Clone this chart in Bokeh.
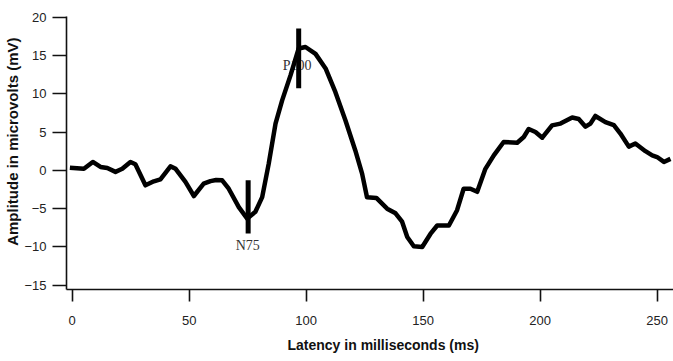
from bokeh.plotting import figure
from bokeh.models import Range1d, FixedTicker, ColumnDataSource, Title
from bokeh.core.properties import value
from bokeh.embed import file_html
from bokeh.resources import INLINE

# Waveform (latency in ms, amplitude)
latency_ms = [-1, 5, 8.8, 12.1, 15, 18.5, 21.4, 24.9, 27, 31.3, 34.9, 37.7, 42, 44.2,
              48.4, 52, 56.2, 59.1, 61.5, 64.1, 66.9, 71.2, 74.8, 78.3, 81.2, 84,
              86.9, 89.7, 93.3, 96.8, 99.7, 104, 108.3, 112.5, 116.8, 121, 123.9,
              126, 130, 134.6, 138.2, 141, 143.2, 146, 149.6, 153.1, 156, 161,
              164.5, 167.3, 170.2, 173.1, 176.6, 180.2, 184.4, 190.2, 193, 195.1,
              198, 200.9, 205.1, 208.7, 213.7, 216.5, 219.4, 221.5, 223.6, 227.9,
              231.5, 234.3, 237.9, 240.7, 245, 247.9, 250, 252.9, 255.7]
amplitude = [0.35, 0.2, 1.1, 0.45, 0.3, -0.2, 0.2, 1.1, 0.8, -1.95, -1.43, -1.17, 0.52, 0.2,
             -1.5, -3.35, -1.74, -1.4, -1.25, -1.3, -2.4, -4.8, -6.3, -5.4, -3.5, 0.87,
             6.1, 9.1, 12.4, 15.9, 16.1, 15.2, 13.3, 10.2, 6.5, 2.6, -0.43,
             -3.5, -3.6, -5.0, -5.6, -6.7, -8.7, -9.9, -10, -8.3, -7.2, -7.2,
             -5.2, -2.4, -2.4, -2.8, 0.2, 1.96, 3.7, 3.6, 4.35, 5.4,
             5.0, 4.26, 5.87, 6.1, 6.9, 6.7, 5.7, 6.1, 7.1, 6.3,
             5.9, 4.8, 3.1, 3.5, 2.5, 1.96, 1.74, 1.1, 1.5]

# Peak markers
peak_names = ["N75", "P100"]
peak_ms = [75.2, 96.8]
bar_top = [-1.3, 18.5]
bar_bottom = [-8.25, 10.7]
label_ms = [75.0, 96.1]
label_amp = [-9.8, 13.7]

x_ticks = [0, 50, 100, 150, 200, 250]
y_ticks = [-15, -10, -5, 0, 5, 10, 15, 20]
x_title = "Latency in milliseconds (ms)"
y_title = "Amplitude in microvolts (mV)"

p = figure(width=673, height=361, output_backend="svg", toolbar_location=None,
           x_range=Range1d(-2.44, 257), y_range=Range1d(-15.55, 20.08),
           min_border_left=66, min_border_right=0, min_border_top=16, min_border_bottom=72)
p.outline_line_color = None
p.grid.grid_line_color = None

p.xaxis.ticker = FixedTicker(ticks=x_ticks)
p.yaxis.ticker = FixedTicker(ticks=y_ticks)
for ax in (p.xaxis, p.yaxis):
    ax.minor_tick_line_color = None
    ax.axis_line_color = "#111111"
    ax.axis_line_width = 1.6
    ax.major_tick_line_color = "#111111"
    ax.major_tick_line_width = 1.6
    ax.major_tick_in = 0
    ax.major_label_text_font = "Liberation Sans"
    ax.major_label_text_font_size = "13px"
    ax.major_label_text_color = "#222222"
p.xaxis.major_tick_out = 12
p.xaxis.major_label_standoff = 14
p.yaxis.major_tick_out = 14
p.yaxis.major_label_standoff = 6

xt = Title(text=x_title, align="left", offset=221, standoff=14,
           text_font="Liberation Sans", text_font_size="14px", text_font_style="bold",
           text_color="#111111")
p.add_layout(xt, "below")
yt = Title(text=y_title, align="right", offset=21, standoff=2,
           text_font="Liberation Sans", text_font_size="15px", text_font_style="bold",
           text_color="#111111")
p.add_layout(yt, "left")

src = ColumnDataSource(dict(name=peak_names, x=peak_ms, top=bar_top, bottom=bar_bottom,
                            lx=label_ms, ly=label_amp))
p.text(x="lx", y="ly", text="name", source=src, text_font=value("Liberation Serif"),
       text_font_size="14px", text_color="#333333", text_align="center",
       text_baseline="middle")
p.line(latency_ms, amplitude, line_color="black", line_width=4.5, line_join="round")
p.segment(x0="x", y0="bottom", x1="x", y1="top", source=src, line_color="black",
          line_width=5)

open("out.html", "w").write(file_html(p, INLINE))
